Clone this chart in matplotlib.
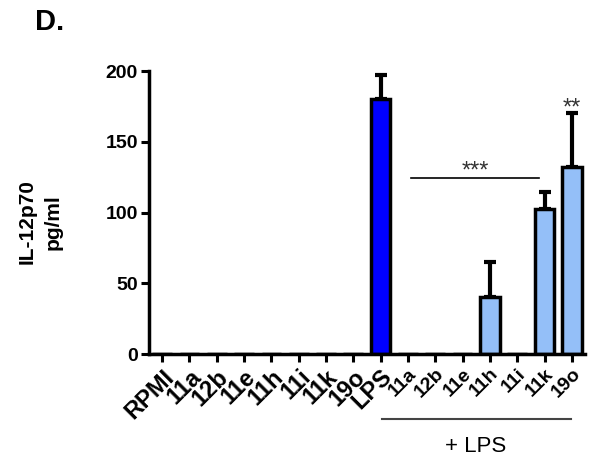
import matplotlib
matplotlib.use("Agg")
import matplotlib.pyplot as plt

# données
labels = ["RPMI", "11a", "12b", "11e", "11h", "11i", "11k", "19o", "LPS",
          "11a", "12b", "11e", "11h", "11i", "11k", "19o"]
values = [0, 0, 0, 0, 0, 0, 0, 0, 180, 0, 0, 0, 40, 0, 102.5, 132]
errors = [0, 0, 0, 0, 0, 0, 0, 0, 17, 0, 0, 0, 25, 0, 12, 38]
groups = ["none"] * 8 + ["lps"] + ["plus"] * 7
colors = {"none": "white", "lps": "#0000FF", "plus": "#94BFF8"}

plt.rcParams["font.family"] = ["Liberation Sans", "DejaVu Sans"]

fig = plt.figure(figsize=(5.96, 4.66), dpi=100, facecolor="white")
ax = fig.add_axes([0.250, 0.2403, 0.7315, 0.6073])

x = list(range(len(labels)))
ax.bar(x, values, width=0.72, color=[colors[g] for g in groups],
       edgecolor="black", linewidth=2.5, zorder=2)
for xi, v, e in zip(x, values, errors):
    if e > 0:
        ax.errorbar(xi, v, yerr=[[0], [e]], fmt="none", ecolor="black",
                    elinewidth=3, capsize=4.5, capthick=3, zorder=1)

ax.set_xlim(-0.48, 15.48)
ax.set_ylim(0, 200)
ax.set_yticks([0, 50, 100, 150, 200])
ax.set_xticks(x)
ax.set_xticklabels(labels, rotation=45, ha="right", rotation_mode="anchor",
                   fontweight="bold")
for i, t in enumerate(ax.get_xticklabels()):
    t.set_fontsize(17 if i <= 8 else 14)
for t in ax.get_yticklabels():
    t.set_fontweight("bold")
    t.set_fontsize(14)
ax.tick_params(axis="both", length=6, width=2.2, pad=2)
for s in ("top", "right"):
    ax.spines[s].set_visible(False)
for s in ("left", "bottom"):
    ax.spines[s].set_linewidth(2.5)

# significativité
ax.plot([9.1, 13.8], [124.5, 124.5], color="black", lw=1.2, clip_on=False)
ax.text(11.45, 121, "***", ha="center", va="bottom", fontsize=17,
        color="#333333")
ax.text(15, 166, "**", ha="center", va="bottom", fontsize=17, color="#333333")

# bloc "+ LPS" sous l'axe
fig.add_artist(plt.Line2D([382 / 596, 571 / 596], [1 - 419 / 466, 1 - 419 / 466],
                          color="#444444", lw=1.5))
fig.text(476 / 596, 1 - 447 / 466, "+ LPS", ha="center", va="center", fontsize=16)

fig.text(40 / 596, 1 - 222 / 466, "IL-12p70\npg/ml", rotation=90, ha="center",
         va="center", ma="center", fontsize=15, fontweight="bold",
         linespacing=1.45)
fig.text(35 / 596, 1 - 22 / 466, "D.", ha="left", va="center", fontsize=21,
         fontweight="bold")

fig.savefig("out.png", dpi=100, facecolor="white")
